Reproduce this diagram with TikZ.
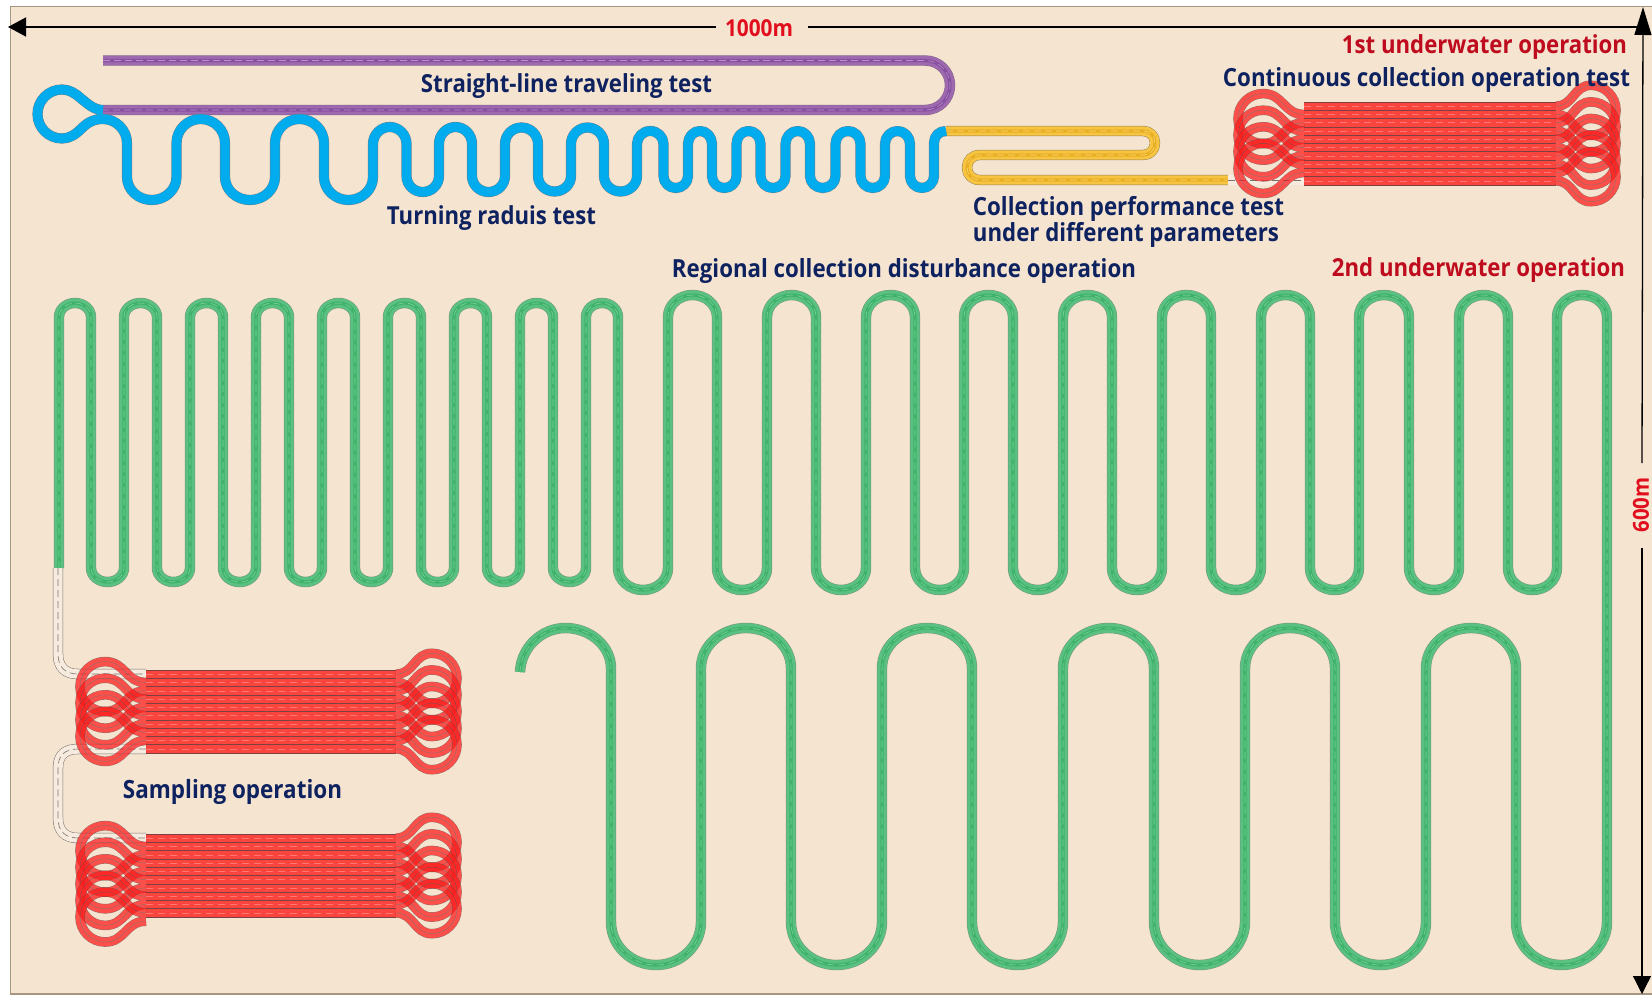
\documentclass[tikz,border=0pt]{standalone}
\usepackage{graphicx}
\usepackage{fontspec}
\setmainfont{Open Sans}
\usetikzlibrary{arrows.meta}
\definecolor{bgc}{RGB}{245,228,208}
\definecolor{framec}{RGB}{165,150,130}
\definecolor{navy}{RGB}{14,34,96}
\definecolor{dred}{RGB}{190,12,30}
\definecolor{bred}{RGB}{225,15,30}
\definecolor{gedge}{RGB}{120,150,122}
\definecolor{gbody}{RGB}{90,193,130}
\definecolor{gcore}{RGB}{64,178,108}
\definecolor{gdash}{RGB}{122,212,152}
\definecolor{pedge}{RGB}{130,100,140}
\definecolor{pbody}{RGB}{158,105,175}
\definecolor{pcore}{RGB}{135,80,160}
\definecolor{pdash}{RGB}{185,145,200}
\definecolor{yedge}{RGB}{150,130,80}
\definecolor{ybody}{RGB}{247,197,65}
\definecolor{ycore}{RGB}{232,175,35}
\definecolor{ydash}{RGB}{250,215,120}
\definecolor{wedge}{RGB}{120,115,110}
\definecolor{wbody}{RGB}{246,235,222}
\definecolor{bedge}{RGB}{105,125,140}
\definecolor{bbody}{RGB}{0,172,238}
\definecolor{rbody}{RGB}{255,28,28}
\definecolor{rblock}{RGB}{250,68,62}
\definecolor{redge}{RGB}{125,65,65}
% one U turn of a serpentine: straight to (x1,ys), over the apex at ya, down to (x2,ys)
\newcommand{\Ux}[4]{-- (#1,#2) .. controls (#1,{#2+0.5523*(#4-#2)}) and ({#1+0.4477*0.5*(#3-#1)},#4) .. ({0.5*(#1+#3)},#4) .. controls ({#3-0.4477*0.5*(#3-#1)},#4) and (#3,{#2+0.5523*(#4-#2)}) .. (#3,#2)}
% four layer ribbon
\newcommand{\ribbon}[5]{%
  \draw[line width=10.4pt,color=#1,line join=round] #5;
  \draw[line width=9.4pt,color=#2,line join=round] #5;
  \draw[line width=3.2pt,color=#3,line join=round] #5;
  \draw[line width=.6pt,color=#4,dash pattern=on 7pt off 4pt] #5;
}
% keyhole loop joining rows i and i+1 of a block; #1 side (1 or -1), #2 block edge, #3 circle centre x, #4 block top y, #5 row i
\newcommand{\rloop}[5]{%
  \pgfmathsetmacro{\ya}{#4+8.3*(#5-0.5)}
  \pgfmathsetmacro{\yb}{\ya+8.3}
  \pgfmathsetmacro{\yc}{\ya+4.15}
  \pgfmathsetmacro{\xm}{#3+#1*25}
  \pgfmathsetmacro{\xk}{#3+#1*13.8}
  \pgfmathsetmacro{\ca}{#2+0.5*(#3-#2)}
  \pgfmathsetmacro{\ta}{\yc-25}
  \pgfmathsetmacro{\tb}{\yc+25}
  \def\lp{(#2,\ya) .. controls (\ca,\ya) and (\ca,\ta) .. (#3,\ta) .. controls (\xk,\ta) and (\xm,{\yc-13.8}) .. (\xm,\yc) .. controls (\xm,{\yc+13.8}) and (\xk,\tb) .. (#3,\tb) .. controls (\ca,\tb) and (\ca,\yb) .. (#2,\yb)}
  \begin{scope}[transparency group,opacity=.74]
    \draw[line width=9.6pt,color=redge] \lp;
    \draw[line width=8.6pt,color=rbody] \lp;
    \draw[line width=.5pt,color=redge] \lp;
  \end{scope}
}
% block of ten rows; #1 x1, #2 x2, #3 top y
\newcommand{\rblock}[3]{%
  \fill[rblock] (#1,#3) rectangle (#2,{#3+83});
  \foreach \r in {0,...,10}{\draw[line width=.6pt,color=redge] (#1,{#3+8.3*\r}) -- (#2,{#3+8.3*\r});}
  \foreach \r in {1,...,10}{\draw[line width=.5pt,color=rblock!72!white,dash pattern=on 7pt off 5pt] (#1,{#3+8.3*(\r-.5)}) -- (#2,{#3+8.3*(\r-.5)});}
}
\newcommand{\lbl}[6]{\node[inner sep=0pt,text=#5] (#1) at (#2,#3) {\scalebox{1}[1.12]{\resizebox{#4pt}{!}{\bfseries #6}}};}
\def\greenpath{(59,568) \Ux{59}{317}{91}{303} \Ux{91}{568}{124}{582} \Ux{124}{317}{157}{303} \Ux{157}{568}{190}{582} \Ux{190}{317}{223}{303} \Ux{223}{568}{256}{582} \Ux{256}{317}{289}{303} \Ux{289}{568}{322}{582} \Ux{322}{317}{355}{303} \Ux{355}{568}{388}{582} \Ux{388}{317}{421}{303} \Ux{421}{568}{454}{582} \Ux{454}{317}{487}{303} \Ux{487}{568}{520}{582} \Ux{520}{317}{553}{303} \Ux{553}{568}{586}{582} \Ux{586}{317}{618}{303} \Ux{618}{568}{668}{590} \Ux{668}{317}{717}{295} \Ux{717}{568}{767}{590} \Ux{767}{317}{816}{295} \Ux{816}{568}{866}{590} \Ux{866}{317}{915}{295} \Ux{915}{568}{964}{590} \Ux{964}{317}{1013}{295} \Ux{1013}{568}{1063}{590} \Ux{1063}{317}{1112}{295} \Ux{1112}{568}{1162}{590} \Ux{1162}{317}{1211}{295} \Ux{1211}{568}{1261}{590} \Ux{1261}{317}{1310}{295} \Ux{1310}{568}{1359}{590} \Ux{1359}{317}{1409}{295} \Ux{1409}{568}{1459}{590} \Ux{1459}{317}{1508}{295} \Ux{1508}{568}{1557}{590} \Ux{1557}{317}{1607}{295} \Ux{1607}{922}{1516}{965} \Ux{1516}{668}{1426}{628} \Ux{1426}{922}{1335}{965} \Ux{1335}{668}{1245}{628} \Ux{1245}{922}{1154}{965} \Ux{1154}{668}{1063}{628} \Ux{1063}{922}{972}{965} \Ux{972}{668}{882}{628} \Ux{882}{922}{791}{965} \Ux{791}{668}{701}{628} \Ux{701}{922}{611}{965} -- (611,668) .. controls (611,646) and (590,628) .. (565.5,628) .. controls (541,628) and (521,648) .. (520,672)}
\def\bluepath{(103,110) .. controls (94,110) and (88,104) .. (81,98.5) .. controls (75,93) and (69,89.5) .. (62,89.5) .. controls (48.5,89.5) and (37.5,100.5) .. (37.5,114) .. controls (37.5,127.5) and (48.5,138.5) .. (62,138.5) .. controls (69,138.5) and (75,135) .. (81,129) .. controls (87,123) and (93,119) .. (103,119) .. controls (116,119) and (127,130) .. (127,143) \Ux{127}{177}{176.5}{200} \Ux{176.5}{143}{225}{119} \Ux{225}{177}{275}{200} \Ux{275}{143}{324}{119} \Ux{324}{177}{373}{200} \Ux{373}{144}{406.5}{127} \Ux{406.5}{176}{439}{192} \Ux{439}{144}{472}{127} \Ux{472}{176}{505}{192} \Ux{505}{144}{538}{127.5} \Ux{538}{176}{571}{191.5} \Ux{571}{144}{604}{127.5} \Ux{604}{176}{637}{191.5} \Ux{637}{144}{663.5}{131} \Ux{663.5}{176}{688}{188} \Ux{688}{144}{712}{131} \Ux{712}{176}{736.5}{188} \Ux{736.5}{144}{760.5}{131} \Ux{760.5}{176}{785.5}{188} \Ux{785.5}{144}{810}{131} \Ux{810}{176}{835.5}{188} \Ux{835.5}{144}{860.5}{131} \Ux{860.5}{176}{885}{188} \Ux{885}{144}{910}{131} \Ux{910}{176}{934}{188} -- (934,143) .. controls (934,136) and (939,131) .. (946,131)}
\def\purplepath{(103,60.5) -- (925,60.5) .. controls (939,60.5) and (950,71.5) .. (950,85.25) .. controls (950,99) and (939,110) .. (925,110) -- (103,110)}
\def\yellowpath{(946,131) -- (1143,131) .. controls (1150,131) and (1155,136) .. (1155,143) .. controls (1155,150) and (1150,155) .. (1143,155) -- (980,155) .. controls (972,155) and (967,160.5) .. (967,167.5) .. controls (967,174.5) and (972,180) .. (980,180) -- (1228,180)}
\def\whiteA{(58,568) -- (58,654) .. controls (58,667) and (65,674) .. (78,674) -- (146,674)}
\def\whiteB{(146,749) -- (78,749) .. controls (65,749) and (58,755) .. (58,768) -- (58,818) .. controls (58,831) and (65,838) .. (78,838) -- (146,838)}
\def\whiteC{(1228,180) -- (1304,180)}
\begin{document}
\begin{tikzpicture}[x=1pt,y=-1pt,line cap=butt]
\useasboundingbox (0,0) rectangle (1652,995);
\fill[white] (0,0) rectangle (1652,995);
\fill[bgc] (10.5,6.5) rectangle (1652,994);
\draw[framec,line width=1.6pt] (1652,6.5) -- (10.5,6.5) -- (10.5,994) -- (1652,994);
% test tracks
\ribbon{yedge}{ybody}{ycore}{ydash}{\yellowpath}
\ribbon{pedge}{pbody}{pcore}{pdash}{\purplepath}
\draw[line width=10.2pt,color=bedge,line join=round] \bluepath;
\draw[line width=9.4pt,color=bbody,line join=round] \bluepath;
\ribbon{gedge}{gbody}{gcore}{gdash}{\greenpath}
% grey connecting runs
\ribbon{wedge}{wbody}{wbody}{wedge}{\whiteA}
\ribbon{wedge}{wbody}{wbody}{wedge}{\whiteB}
\ribbon{wedge}{wbody}{wbody}{wedge}{\whiteC}
% red blocks
\rblock{1304}{1556}{102}
\rblock{146}{396}{670}
\rblock{146}{396}{834}
\foreach \i in {1,3,5,7,9}{\rloop{1}{1556}{1591}{102}{\i}}
\foreach \i in {2,4,6,8}{\rloop{-1}{1304}{1263}{102}{\i}}
\foreach \i in {1,3,5,7,9}{\rloop{1}{396}{432}{670}{\i}}
\foreach \i in {2,4,6,8}{\rloop{-1}{146}{105}{670}{\i}}
\foreach \i in {1,3,5,7,9}{\rloop{1}{396}{432}{834}{\i}}
\foreach \i in {2,4,6,8,10}{\rloop{-1}{146}{105}{834}{\i}}
% dimension arrows
\coordinate (hl) at (8,27);
\coordinate (hla) at (716,27);
\coordinate (hlb) at (808,27);
\coordinate (hr) at (1642,27);
\coordinate (vt) at (1643,7);
\coordinate (vta) at (1642,463);
\coordinate (vtb) at (1642,548);
\coordinate (vb) at (1642,994);
\draw[line width=1.3pt,-{Triangle[length=18pt,width=19pt]}] (hla) -- (hl);
\draw[line width=1.3pt] (hlb) -- (hr);
\draw[line width=1.3pt,-{Triangle[length=28pt,width=17pt]}] (vta) -- (vt);
\draw[line width=1.3pt,-{Triangle[length=18pt,width=18pt]}] (vtb) -- (vb);
% labels
\lbl{tkm}{759}{28}{68}{bred}{1000m}
\node[inner sep=0pt,rotate=90] (tsix) at (1641,505) {\resizebox{55pt}{16pt}{\textcolor{bred}{\bfseries 600m}}};
\lbl{tfirst}{1484.5}{47.5}{285}{dred}{1st underwater operation}
\lbl{tsecond}{1478.5}{270.5}{293}{dred}{2nd underwater operation}
\lbl{tcont}{1426.5}{80}{407}{navy}{Continuous collection operation test}
\lbl{tcoll}{1128.5}{209}{311}{navy}{Collection performance test}
\lbl{tunder}{1126}{235}{306}{navy}{under different parameters}
\lbl{tregion}{904}{271}{464}{navy}{Regional collection disturbance operation}
\lbl{tstraight}{566.5}{86}{291}{navy}{Straight-line traveling test}
\lbl{tturn}{491.5}{218}{209}{navy}{Turning raduis test}
\lbl{tsample}{232.5}{792}{219}{navy}{Sampling operation}
\end{tikzpicture}
\end{document}
